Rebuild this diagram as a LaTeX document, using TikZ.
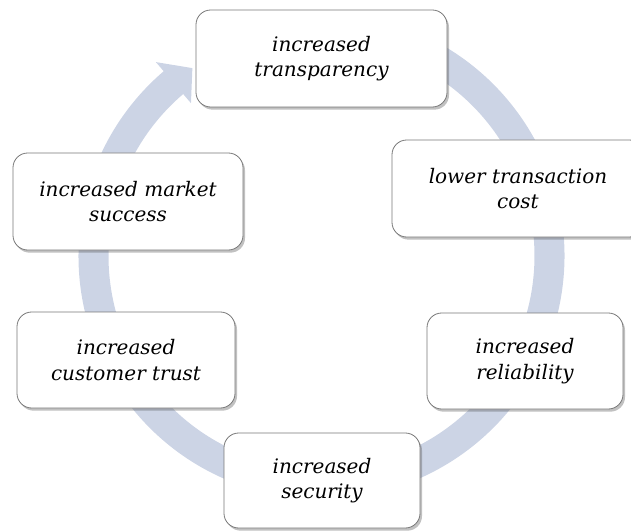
\documentclass[tikz,border=0pt]{standalone}
\usepackage{fontspec}
\setmainfont{DejaVu Serif}
\usepackage{xcolor}
\usepackage{tikz}
\usetikzlibrary{shadows,calc}

\definecolor{cycleblue}{RGB}{204,212,229}
\definecolor{boxline}{RGB}{120,120,120}

\tikzset{
  stage/.style={draw=boxline, line width=0.6pt, fill=white, rounded corners=11pt,
    align=center, inner sep=0pt, font=\fontsize{15pt}{19pt}\selectfont\itshape,
    drop shadow={shadow xshift=1.5pt, shadow yshift=-2pt, opacity=0.35, fill=black!70}},
}

\begin{document}
\begin{tikzpicture}[x=0.75pt,y=0.75pt,yscale=-1,xscale=1]
	\useasboundingbox (0,0) rectangle (631,531);
	\clip (0,0) rectangle (631,531);
	
	%Shape: Circular Arrow [id:cyc]
	\coordinate (hub) at (321.5,256);
	\fill[cycleblue] ($(hub)+(-85:243)$) arc[start angle=-85, end angle=229.5, radius=243]
	  -- ($(hub)+(229.5:255)$) -- ($(hub)+(235.5:228)$) -- ($(hub)+(229.5:201)$)
	  -- ($(hub)+(229.5:213)$) arc[start angle=229.5, end angle=-85, radius=213] -- cycle ;
	
	% Text Node
	\node[stage, minimum width=251*0.75pt, minimum height=97*0.75pt] (transp) at (321.5,58.5) {increased\\transparency};
	% Text Node
	\node[stage, minimum width=252*0.75pt, minimum height=97*0.75pt] (cost) at (518,188.5) {lower transaction\\cost};
	% Text Node
	\node[stage, minimum width=196*0.75pt, minimum height=96*0.75pt] (reliab) at (525,361) {increased\\reliability};
	% Text Node
	\node[stage, minimum width=196*0.75pt, minimum height=95*0.75pt] (secur) at (322,480.5) {increased\\security};
	% Text Node
	\node[stage, minimum width=218*0.75pt, minimum height=96*0.75pt] (trust) at (126,360) {increased\\customer trust};
	% Text Node
	\node[stage, minimum width=230*0.75pt, minimum height=97*0.75pt] (market) at (128,201.5) {increased market\\success};
	
\end{tikzpicture}
\end{document}
